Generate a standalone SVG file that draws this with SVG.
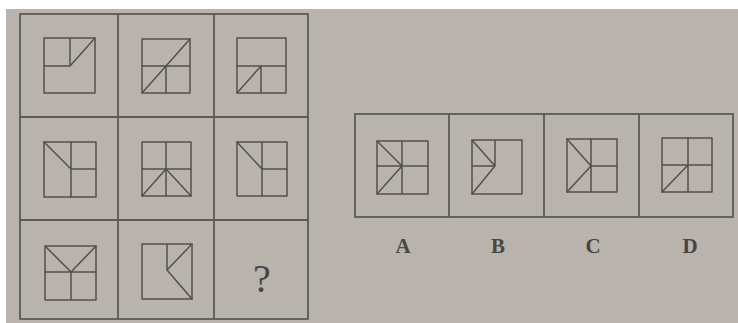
<svg xmlns="http://www.w3.org/2000/svg" width="738" height="323" viewBox="0 0 738 323">
<style>
.bg{fill:#b8b3ad}
.frame{fill:none;stroke:#5e5954;stroke-width:1.8}
.fig{fill:none;stroke:#55504b;stroke-width:1.5;stroke-linejoin:round;stroke-linecap:round}
.lbl{font-family:"Liberation Serif",serif;font-weight:bold;fill:#4a4541;text-anchor:middle}
.q{font-family:"Liberation Serif",serif;font-weight:normal;fill:#4a4541;text-anchor:middle}
</style>
<rect width="738" height="323" fill="#ffffff"/>
<rect class="bg" x="6" y="9" width="732" height="314"/>
<g id="grid">
<rect class="frame" x="20" y="14" width="288" height="305"/>
<line class="frame" x1="118" y1="14" x2="118" y2="319"/>
<line class="frame" x1="214" y1="14" x2="214" y2="319"/>
<line class="frame" x1="20" y1="117" x2="308" y2="117"/>
<line class="frame" x1="20" y1="220" x2="308" y2="220"/>
</g>
<g id="r1c1"><rect class="fig" x="44" y="38" width="51" height="55"/><path class="fig" d="M70 38V66H44M70 66L95 38"/></g>
<g id="r1c2"><rect class="fig" x="142" y="39" width="48" height="54"/><path class="fig" d="M142 66H190M166 66V93M142 93L190 39"/></g>
<g id="r1c3"><rect class="fig" x="237" y="38" width="49" height="55"/><path class="fig" d="M237 66H286M261 66V93M237 93L261 66"/></g>
<g id="r2c1"><rect class="fig" x="44" y="142" width="52" height="55"/><path class="fig" d="M71 142V197M71 169H96M44 142L71 169"/></g>
<g id="r2c2"><rect class="fig" x="142" y="142" width="49" height="54"/><path class="fig" d="M166 142V196M142 169H191M142 196L166 169L191 196"/></g>
<g id="r2c3"><rect class="fig" x="237" y="142" width="50" height="54"/><path class="fig" d="M262 142V196M262 169H287M237 142L262 169"/></g>
<g id="r3c1"><rect class="fig" x="45" y="246" width="51" height="54"/><path class="fig" d="M45 272H96M71 272V300M45 246L71 272L96 246"/></g>
<g id="r3c2"><rect class="fig" x="142" y="244" width="50" height="55"/><path class="fig" d="M167 244V270M192 244L167 270L192 299"/></g>
<g id="r3c3"><text class="q" x="262" y="292" font-size="40">?</text></g>
<g id="options">
<rect class="frame" x="355" y="114" width="378" height="103"/>
<line class="frame" x1="449" y1="114" x2="449" y2="217"/>
<line class="frame" x1="544" y1="114" x2="544" y2="217"/>
<line class="frame" x1="639" y1="114" x2="639" y2="217"/>
</g>
<g id="optA"><rect class="fig" x="377" y="141" width="51" height="53"/><path class="fig" d="M402 141V194M377 166H428M377 141L402 166L377 194"/><text class="lbl" x="403" y="253" font-size="21">A</text></g>
<g id="optB"><rect class="fig" x="472" y="140" width="50" height="54"/><path class="fig" d="M495 140V166H472M472 140L495 166L472 194"/><text class="lbl" x="498" y="253" font-size="21">B</text></g>
<g id="optC"><rect class="fig" x="567" y="139" width="50" height="53"/><path class="fig" d="M591 139V192M591 166H617M567 139L591 166L567 192"/><text class="lbl" x="593" y="253" font-size="21">C</text></g>
<g id="optD"><rect class="fig" x="662" y="138" width="50" height="54"/><path class="fig" d="M688 138V192M662 165H712M662 192L688 165"/><text class="lbl" x="690" y="253" font-size="21">D</text></g>
</svg>
